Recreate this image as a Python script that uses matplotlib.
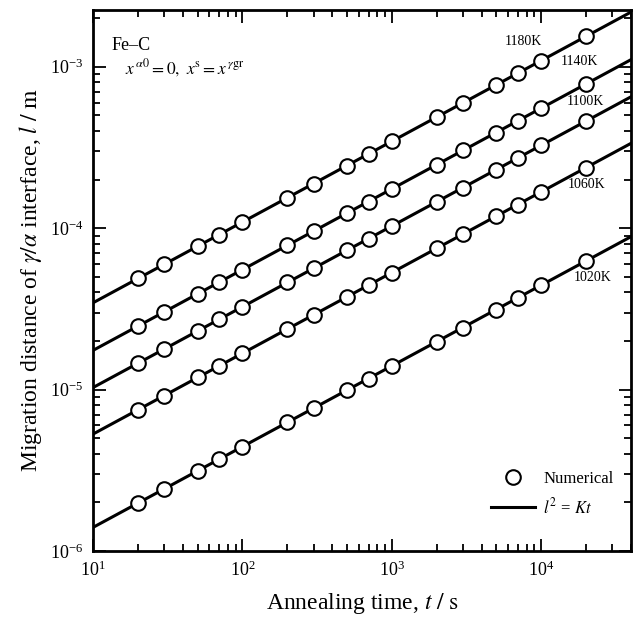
import numpy as np
import matplotlib
matplotlib.use("Agg")
import matplotlib.pyplot as plt
from matplotlib.ticker import LogLocator, NullFormatter
from matplotlib.lines import Line2D

plt.rcParams['font.family'] = ['Liberation Serif', 'DejaVu Sans']
plt.rcParams['mathtext.fontset'] = 'stix'

# Data
times = [20, 30, 50, 70, 100, 200, 300, 500, 700, 1000, 2000, 3000, 5000, 7000, 10000, 20000]
temps = ["1180K", "1140K", "1100K", "1060K", "1020K"]
l_1180 = [4.88e-5, 5.98e-5, 7.71e-5, 9.13e-5, 1.09e-4, 1.54e-4, 1.89e-4, 2.44e-4, 2.89e-4, 3.45e-4,
          4.88e-4, 5.98e-4, 7.71e-4, 9.13e-4, 1.09e-3, 1.54e-3]
l_1140 = [2.47e-5, 3.03e-5, 3.91e-5, 4.63e-5, 5.53e-5, 7.83e-5, 9.58e-5, 1.24e-4, 1.46e-4, 1.75e-4,
          2.47e-4, 3.03e-4, 3.91e-4, 4.63e-4, 5.53e-4, 7.83e-4]
l_1100 = [1.46e-5, 1.78e-5, 2.30e-5, 2.73e-5, 3.26e-5, 4.61e-5, 5.64e-5, 7.28e-5, 8.62e-5, 1.03e-4,
          1.46e-4, 1.78e-4, 2.30e-4, 2.73e-4, 3.26e-4, 4.61e-4]
l_1060 = [7.50e-6, 9.18e-6, 1.19e-5, 1.40e-5, 1.68e-5, 2.37e-5, 2.90e-5, 3.75e-5, 4.43e-5, 5.30e-5,
          7.50e-5, 9.18e-5, 1.19e-4, 1.40e-4, 1.68e-4, 2.37e-4]
l_1020 = [1.98e-6, 2.42e-6, 3.13e-6, 3.70e-6, 4.43e-6, 6.26e-6, 7.67e-6, 9.90e-6, 1.17e-5, 1.40e-5,
          1.98e-5, 2.42e-5, 3.13e-5, 3.70e-5, 4.43e-5, 6.26e-5]
K_values = [1.19e-10, 3.06e-11, 1.06e-11, 2.81e-12, 1.96e-13]   # l^2 = K t  (m^2/s)
series = [l_1180, l_1140, l_1100, l_1060, l_1020]

x_min, x_max = 10, 4.0e4
y_min, y_max = 1e-6, 2.25e-3

fig = plt.figure(figsize=(6.38, 6.19), dpi=100)
ax = fig.add_axes([0.146, 0.110, 0.843, 0.874])

t_line = np.array([x_min, x_max])
for K in K_values:
    ax.plot(t_line, np.sqrt(K * t_line), color='black', lw=2.2, zorder=2)
for vals in series:
    ax.plot(times, vals, linestyle='none', marker='o', ms=10.5, mfc='white',
            mec='black', mew=1.5, zorder=3)

ax.set_xscale('log')
ax.set_yscale('log')
ax.set_xlim(x_min, x_max)
ax.set_ylim(y_min, y_max)

ax.xaxis.set_major_locator(LogLocator(base=10, numticks=10))
ax.yaxis.set_major_locator(LogLocator(base=10, numticks=10))
ax.xaxis.set_minor_locator(LogLocator(base=10, subs=np.arange(2, 10), numticks=20))
ax.yaxis.set_minor_locator(LogLocator(base=10, subs=np.arange(2, 10), numticks=20))
ax.xaxis.set_minor_formatter(NullFormatter())
ax.yaxis.set_minor_formatter(NullFormatter())
ax.tick_params(which='both', direction='in', top=True, right=True, width=1.3)
ax.tick_params(which='major', length=9, labelsize=13, pad=7)
ax.tick_params(which='minor', length=5)
for s in ax.spines.values():
    s.set_linewidth(2.0)

ax.set_xlabel(r'Annealing time, $t\ /\ \mathrm{s}$', fontsize=17, labelpad=8)
ax.set_ylabel(r'Migration distance of $\gamma/\alpha$ interface, $l\ /\ \mathrm{m}$',
              fontsize=17, labelpad=4)

# Temperature labels
label_pos = [(0.799, 0.941), (0.905, 0.904), (0.915, 0.830), (0.918, 0.677), (0.928, 0.505)]
for name, (xf, yf) in zip(temps, label_pos):
    ax.text(xf, yf, name, transform=ax.transAxes, fontsize=10, ha='center', va='center')

ax.text(0.035, 0.935, 'Fe–C', transform=ax.transAxes, fontsize=13, ha='left', va='center')
ax.text(0.06, 0.893, r'$x^{\,\alpha 0} = 0,\ x^{\rm s} = x^{\,\gamma {\rm gr}}$',
        transform=ax.transAxes, fontsize=12.5, ha='left', va='center')

# Legend
handles = [Line2D([], [], linestyle='none', marker='o', ms=10.5, mfc='white', mec='black', mew=1.5),
           Line2D([], [], color='black', lw=2.2)]
ax.legend(handles, ['Numerical', r'$l^2$ = $Kt$'], loc='lower right', frameon=False,
          fontsize=12, bbox_to_anchor=(0.995, 0.035), handlelength=2.6, handletextpad=0.5,
          labelspacing=0.6)

fig.savefig('out.png', dpi=100)
